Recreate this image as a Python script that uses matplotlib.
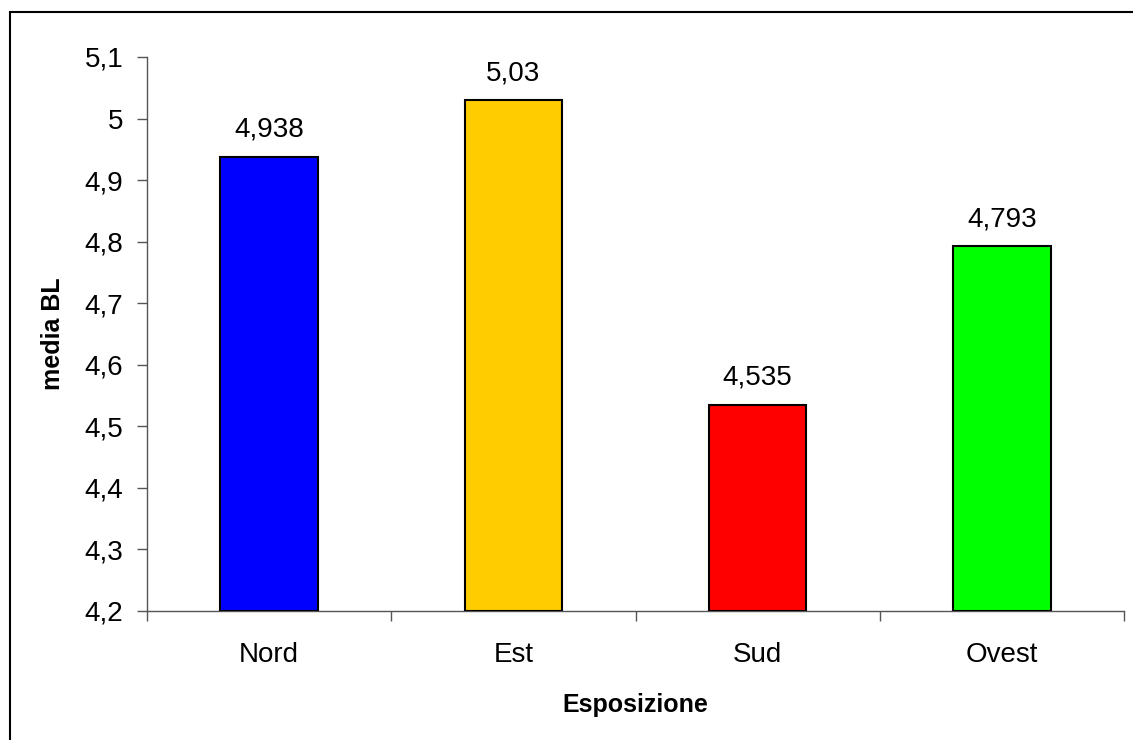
import matplotlib.pyplot as plt
from matplotlib.patches import Rectangle

plt.rcParams['font.family'] = ['Liberation Sans', 'DejaVu Sans']

esposizione = ['Nord', 'Est', 'Sud', 'Ovest']
media_bl = [4.938, 5.03, 4.535, 4.793]
etichette = ['4,938', '5,03', '4,535', '4,793']
colori = ['#0000FF', '#FFCC00', '#FF0000', '#00FF00']
yticks = [4.2, 4.3, 4.4, 4.5, 4.6, 4.7, 4.8, 4.9, 5.0, 5.1]
ytick_labels = ['4,2', '4,3', '4,4', '4,5', '4,6', '4,7', '4,8', '4,9', '5', '5,1']

fig = plt.figure(figsize=(11.33, 7.4), dpi=100)
ax = fig.add_axes([147/1133, 129/740, 977/1133, 554/740])

# bars start from the bottom of the axis (4.2)
base = yticks[0]
x = range(len(esposizione))
ax.bar(x, [v - base for v in media_bl], bottom=base, width=0.4,
       color=colori, edgecolor='black', linewidth=1.5, zorder=3)

for xi, v, lab in zip(x, media_bl, etichette):
    ax.annotate(lab, (xi, v), xytext=(0, 10), textcoords='offset points',
                ha='center', va='bottom', fontsize=20)

ax.set_ylim(4.2, 5.1)
ax.set_xlim(-0.5, len(esposizione) - 0.5)
ax.set_yticks(yticks)
ax.set_yticklabels(ytick_labels, fontsize=20)

# category labels between the tick marks
ax.set_xticks([i - 0.5 for i in range(len(esposizione) + 1)])
ax.set_xticklabels([])
ax.set_xticks(list(x), minor=True)
ax.set_xticklabels(esposizione, minor=True, fontsize=20)
ax.tick_params(axis='x', which='minor', length=0, pad=22)
ax.tick_params(axis='x', which='major', length=7, width=1, color='#555555', direction='out')
ax.tick_params(axis='y', length=7, width=1, color='#555555', direction='out', pad=10)

for s in ['top', 'right']:
    ax.spines[s].set_visible(False)
for s in ['left', 'bottom']:
    ax.spines[s].set_color('#555555')
    ax.spines[s].set_linewidth(1)

ax.set_xlabel('Esposizione', fontsize=18, fontweight='bold', labelpad=18)
ax.set_ylabel('media BL', fontsize=18, fontweight='bold', labelpad=14)

# chart-area frame (runs off the right and bottom edges)
fig.patches.append(Rectangle((10/1133, -0.05), 1.1, 1 - 12/740 + 0.05,
                             transform=fig.transFigure, fill=False,
                             edgecolor='black', linewidth=1.5))

plt.savefig('out.png', dpi=100)
